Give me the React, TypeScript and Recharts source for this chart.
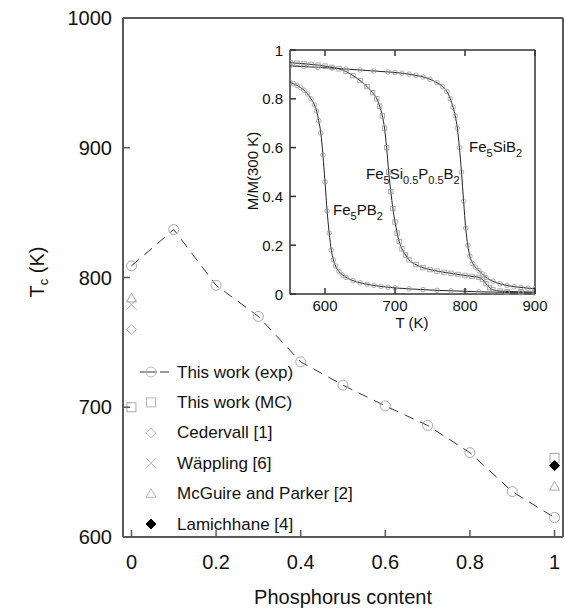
import React from 'react';
import { ScatterChart, LineChart, Scatter, Line, XAxis, YAxis, Legend } from 'recharts';

const FONT = '"Liberation Sans", Arial, sans-serif';
const AXIS = '#5a5a5a';
const INSET_AXIS = '#333';
const MARK = '#a8a8a8';
const LEGEND_MARK = '#b8b8b8';

// main panel: Tc against phosphorus content
const phosphorus = [0, 0.1, 0.2, 0.3, 0.4, 0.5, 0.6, 0.7, 0.8, 0.9, 1];
const tcExp = [809, 837, 794, 770, 735, 717, 701, 686, 665, 635, 615];
const mcX = [0, 1];
const tcMc = [700, 661];
const cedervallX = [0];
const tcCedervall = [760];
const wapplingX = [0];
const tcWappling = [779];
const mcguireX = [0, 1];
const tcMcguire = [784, 639];
const lamichhaneX = [1];
const tcLamichhane = [655];

const xTicks = [0, 0.2, 0.4, 0.6, 0.8, 1];
const yTicks = [600, 700, 800, 900, 1000];

const legendNames = [
  'This work (exp)',
  'This work (MC)',
  'Cedervall [1]',
  'Wäppling [6]',
  'McGuire and Parker [2]',
  'Lamichhane [4]',
];
const legendKinds = ['circle', 'square', 'diamond', 'cross', 'triangle', 'filledDiamond'];

// inset: M/M(300 K) against T
const tPB = [550, 555, 560, 565, 570, 575, 580, 585, 588, 591, 594, 597, 600, 603, 606, 609, 612, 615, 620, 625, 630, 640, 650, 660, 670, 680, 690, 700, 720, 740, 760, 780, 800, 820, 840, 860, 880, 900];
const mPB = [0.868, 0.862, 0.855, 0.846, 0.835, 0.82, 0.8, 0.775, 0.75, 0.71, 0.66, 0.57, 0.46, 0.34, 0.25, 0.18, 0.14, 0.115, 0.092, 0.078, 0.068, 0.055, 0.046, 0.04, 0.035, 0.031, 0.028, 0.025, 0.021, 0.018, 0.015, 0.013, 0.011, 0.009, 0.008, 0.006, 0.005, 0.004];

const tSiP = [550, 560, 570, 580, 590, 600, 610, 620, 630, 640, 650, 660, 668, 674, 678, 682, 685, 688, 691, 694, 697, 700, 703, 706, 710, 715, 720, 730, 740, 750, 760, 770, 780, 790, 800, 810, 820, 825, 830, 835, 840, 850, 860, 880, 900];
const mSiP = [0.948, 0.946, 0.944, 0.941, 0.938, 0.934, 0.929, 0.923, 0.912, 0.895, 0.875, 0.85, 0.825, 0.8, 0.77, 0.73, 0.68, 0.6, 0.5, 0.42, 0.35, 0.295, 0.25, 0.215, 0.185, 0.16, 0.14, 0.12, 0.108, 0.1, 0.094, 0.089, 0.085, 0.08, 0.076, 0.072, 0.068, 0.06, 0.042, 0.026, 0.017, 0.012, 0.01, 0.009, 0.008];

const tSiB = [550, 570, 590, 610, 630, 650, 670, 690, 700, 710, 720, 730, 740, 750, 760, 768, 774, 779, 783, 786, 789, 792, 795, 798, 801, 804, 807, 811, 815, 820, 825, 830, 840, 850, 860, 870, 880, 890, 900];
const mSiB = [0.935, 0.932, 0.929, 0.926, 0.922, 0.918, 0.914, 0.91, 0.908, 0.905, 0.901, 0.896, 0.89, 0.88, 0.866, 0.85, 0.83, 0.8, 0.765, 0.73, 0.68, 0.6, 0.5, 0.38, 0.27, 0.2, 0.155, 0.125, 0.11, 0.095, 0.082, 0.068, 0.052, 0.042, 0.035, 0.03, 0.027, 0.024, 0.022];

const insetXTicks = [600, 700, 800, 900];
const insetYTicks = [0, 0.2, 0.4, 0.6, 0.8, 1];

const pairs = (xs: number[], ys: number[]) => xs.map((x, i) => ({ x, y: ys[i] }));
const curve = (ts: number[], ms: number[]) => ts.map((t, i) => ({ t, m: ms[i] }));

const Marker = ({ kind, cx, cy, color = MARK, s = 5 }: any) => {
  switch (kind) {
    case 'square':
      return <rect x={cx - s + 0.5} y={cy - s + 0.5} width={2 * s - 1} height={2 * s - 1} fill="none" stroke={color} strokeWidth={1} />;
    case 'diamond':
      return <polygon points={`${cx},${cy - s} ${cx + s},${cy} ${cx},${cy + s} ${cx - s},${cy}`} fill="none" stroke={color} strokeWidth={1} />;
    case 'filledDiamond':
      return <polygon points={`${cx},${cy - s} ${cx + s},${cy} ${cx},${cy + s} ${cx - s},${cy}`} fill="#000" stroke="#000" strokeWidth={1} />;
    case 'cross':
      return (
        <g stroke={color} strokeWidth={1}>
          <line x1={cx - s} y1={cy - s} x2={cx + s} y2={cy + s} />
          <line x1={cx - s} y1={cy + s} x2={cx + s} y2={cy - s} />
        </g>
      );
    case 'triangle':
      return <polygon points={`${cx},${cy - s} ${cx + s},${cy + s * 0.75} ${cx - s},${cy + s * 0.75}`} fill="none" stroke={color} strokeWidth={1} />;
    default:
      return <circle cx={cx} cy={cy} r={s} fill="none" stroke={color} strokeWidth={1} />;
  }
};

const shapeOf = (kind: string) => (p: any) => <Marker kind={kind} cx={p.cx} cy={p.cy} />;

// ticks drawn inward, labels outside
const BottomTick = ({ x, y, payload, len = 7, size = 20, gap = 25, color = AXIS }: any) => (
  <g>
    <line x1={x} x2={x} y1={y} y2={y - len} stroke={color} strokeWidth={1.5} />
    <text x={x} y={y + gap} textAnchor="middle" dominantBaseline="central" fontSize={size} fontFamily={FONT} fill="#111">
      {payload.value}
    </text>
  </g>
);
const TopTick = ({ x, y, len = 7, color = AXIS }: any) => (
  <line x1={x} x2={x} y1={y} y2={y + len} stroke={color} strokeWidth={1.5} />
);
const LeftTick = ({ x, y, payload, len = 7, size = 20, gap = 11, color = AXIS }: any) => (
  <g>
    <line x1={x} x2={x + len} y1={y} y2={y} stroke={color} strokeWidth={1.5} />
    <text x={x - gap} y={y} textAnchor="end" dominantBaseline="central" fontSize={size} fontFamily={FONT} fill="#111">
      {payload.value}
    </text>
  </g>
);
const RightTick = ({ x, y, len = 7, color = AXIS }: any) => (
  <line x1={x} x2={x - len} y1={y} y2={y} stroke={color} strokeWidth={1.5} />
);

const MainXTitle = () => (
  <text x={343} y={597} textAnchor="middle" dominantBaseline="central" fontSize={20} fontFamily={FONT} fill="#111">
    Phosphorus content
  </text>
);
const MainYTitle = () => (
  <text x={37} y={272} transform="rotate(-90, 37, 272)" textAnchor="middle" dominantBaseline="central" fontSize={20} fontFamily={FONT} fill="#111">
    T<tspan dy={6} fontSize={13}>c</tspan><tspan dy={-6}> (K)</tspan>
  </text>
);
const InsetXTitle = () => (
  <text x={412} y={322} textAnchor="middle" dominantBaseline="central" fontSize={15} fontFamily={FONT} fill="#111">
    T (K)
  </text>
);
const InsetYTitle = () => (
  <text x={252} y={171} transform="rotate(-90, 252, 171)" textAnchor="middle" dominantBaseline="central" fontSize={15} fontFamily={FONT} fill="#111">
    M/M(300 K)
  </text>
);

const renderLegend = () => (
  <svg width={260} height={190} style={{ overflow: 'visible', display: 'block' }}>
    {legendNames.map((name, i) => {
      const cy = 17 + i * 30.4;
      return (
        <g key={name}>
          {i === 0 && (
            <g stroke="#333" strokeWidth={1}>
              <line x1={10} x2={27} y1={cy} y2={cy} />
              <line x1={30} x2={39} y1={cy} y2={cy} />
            </g>
          )}
          <Marker kind={legendKinds[i]} cx={21} cy={cy} color={LEGEND_MARK} />
          <text x={47} y={cy} dominantBaseline="central" fontSize={17} fontFamily={FONT} fill="#111">
            {name}
          </text>
        </g>
      );
    })}
  </svg>
);

const Formula = ({ x, y, parts }: any) => (
  <text x={x} y={y} fontSize={15} fontFamily={FONT} fill="#111">
    {parts.map((p: string, i: number) =>
      i % 2 === 0 ? (
        <tspan key={i} dy={i === 0 ? 0 : -5}>{p}</tspan>
      ) : (
        <tspan key={i} dy={5} fontSize={11}>{p}</tspan>
      )
    )}
  </text>
);

const insetDot = (kind: string) => (p: any) => {
  const { cx, cy, index } = p;
  if (kind === 'square') {
    return <rect key={index} x={cx - 2.2} y={cy - 2.2} width={4.4} height={4.4} fill="none" stroke="#999" strokeWidth={0.8} />;
  }
  return <circle key={index} cx={cx} cy={cy} r={2.3} fill="none" stroke="#999" strokeWidth={0.8} />;
};

export default function App() {
  return (
    <div style={{ position: 'absolute', left: 0, top: 0, width: 565, height: 610, background: '#fff', fontFamily: FONT }}>
      <div style={{ position: 'absolute', left: 0, top: 0 }}>
        <ScatterChart width={565} height={610} margin={{ top: 17, right: 1, bottom: 0, left: 0 }}>
          <XAxis xAxisId="b" type="number" dataKey="x" domain={[-0.02, 1.02]} ticks={xTicks} interval={0} height={73}
            tickSize={0} tickMargin={0} tickLine={false} axisLine={{ stroke: AXIS, strokeWidth: 2 }}
            tick={<BottomTick />} label={<MainXTitle />} />
          <XAxis xAxisId="t" orientation="top" type="number" dataKey="x" domain={[-0.02, 1.02]} ticks={xTicks} interval={0} height={1}
            tickSize={0} tickMargin={0} tickLine={false} axisLine={{ stroke: AXIS, strokeWidth: 2 }} tick={<TopTick />} />
          <YAxis yAxisId="l" type="number" dataKey="y" domain={[600, 1000]} ticks={yTicks} interval={0} width={123}
            tickSize={0} tickMargin={0} tickLine={false} axisLine={{ stroke: AXIS, strokeWidth: 2 }}
            tick={<LeftTick />} label={<MainYTitle />} />
          <YAxis yAxisId="r" orientation="right" type="number" dataKey="y" domain={[600, 1000]} ticks={yTicks} interval={0} width={1}
            tickSize={0} tickMargin={0} tickLine={false} axisLine={{ stroke: AXIS, strokeWidth: 2 }} tick={<RightTick />} />
          <Legend layout="vertical" align="center" verticalAlign="middle" content={renderLegend}
            wrapperStyle={{ left: 130, top: 355, width: 260, height: 190 }} />
          <Scatter name={legendNames[0]} xAxisId="b" yAxisId="l" data={pairs(phosphorus, tcExp)} isAnimationActive={false}
            line={{ stroke: '#333', strokeWidth: 1, strokeDasharray: '10 7' }} lineType="joint" shape={shapeOf('circle')} />
          <Scatter name={legendNames[1]} xAxisId="b" yAxisId="l" data={pairs(mcX, tcMc)} isAnimationActive={false} shape={shapeOf('square')} />
          <Scatter name={legendNames[2]} xAxisId="b" yAxisId="l" data={pairs(cedervallX, tcCedervall)} isAnimationActive={false} shape={shapeOf('diamond')} />
          <Scatter name={legendNames[3]} xAxisId="b" yAxisId="l" data={pairs(wapplingX, tcWappling)} isAnimationActive={false} shape={shapeOf('cross')} />
          <Scatter name={legendNames[4]} xAxisId="b" yAxisId="l" data={pairs(mcguireX, tcMcguire)} isAnimationActive={false} shape={shapeOf('triangle')} />
          <Scatter name={legendNames[5]} xAxisId="b" yAxisId="l" data={pairs(lamichhaneX, tcLamichhane)} isAnimationActive={false} shape={shapeOf('filledDiamond')} />
        </ScatterChart>
      </div>

      <div style={{ position: 'absolute', left: 0, top: 0 }}>
        <LineChart width={565} height={332} margin={{ top: 49, right: 29, bottom: 0, left: 0 }}>
          <XAxis xAxisId="b" type="number" dataKey="t" domain={[550, 900]} ticks={insetXTicks} interval={0} height={38}
            allowDataOverflow tickSize={0} tickMargin={0} tickLine={false} axisLine={{ stroke: INSET_AXIS, strokeWidth: 1.5 }}
            tick={<BottomTick len={6} size={15} gap={11} color={INSET_AXIS} />} label={<InsetXTitle />} />
          <XAxis xAxisId="t" orientation="top" type="number" dataKey="t" domain={[550, 900]} ticks={insetXTicks} interval={0} height={1}
            allowDataOverflow tickSize={0} tickMargin={0} tickLine={false} axisLine={{ stroke: INSET_AXIS, strokeWidth: 1.5 }}
            tick={<TopTick len={6} color={INSET_AXIS} />} />
          <YAxis yAxisId="l" type="number" domain={[0, 1]} ticks={insetYTicks} interval={0} width={290}
            tickSize={0} tickMargin={0} tickLine={false} axisLine={{ stroke: INSET_AXIS, strokeWidth: 1.5 }}
            tick={<LeftTick len={6} size={15} gap={7} color={INSET_AXIS} />} label={<InsetYTitle />} />
          <YAxis yAxisId="r" orientation="right" type="number" domain={[0, 1]} ticks={insetYTicks} interval={0} width={1}
            tickSize={0} tickMargin={0} tickLine={false} axisLine={{ stroke: INSET_AXIS, strokeWidth: 1.5 }}
            tick={<RightTick len={6} color={INSET_AXIS} />} />
          <Line xAxisId="b" yAxisId="l" data={curve(tPB, mPB)} dataKey="m" type="monotone" stroke="#222" strokeWidth={1}
            dot={insetDot('circle')} isAnimationActive={false} />
          <Line xAxisId="b" yAxisId="l" data={curve(tSiP, mSiP)} dataKey="m" type="monotone" stroke="#222" strokeWidth={1}
            dot={insetDot('square')} isAnimationActive={false} />
          <Line xAxisId="b" yAxisId="l" data={curve(tSiB, mSiB)} dataKey="m" type="monotone" stroke="#222" strokeWidth={1}
            dot={insetDot('circle')} isAnimationActive={false} />
        </LineChart>
        <svg width={565} height={332} style={{ position: 'absolute', left: 0, top: 0, pointerEvents: 'none' }}>
          <Formula x={469} y={152} parts={['Fe', '5', 'SiB', '2']} />
          <Formula x={366} y={179} parts={['Fe', '5', 'Si', '0.5', 'P', '0.5', 'B', '2']} />
          <Formula x={333} y={215} parts={['Fe', '5', 'PB', '2']} />
        </svg>
      </div>
    </div>
  );
}
